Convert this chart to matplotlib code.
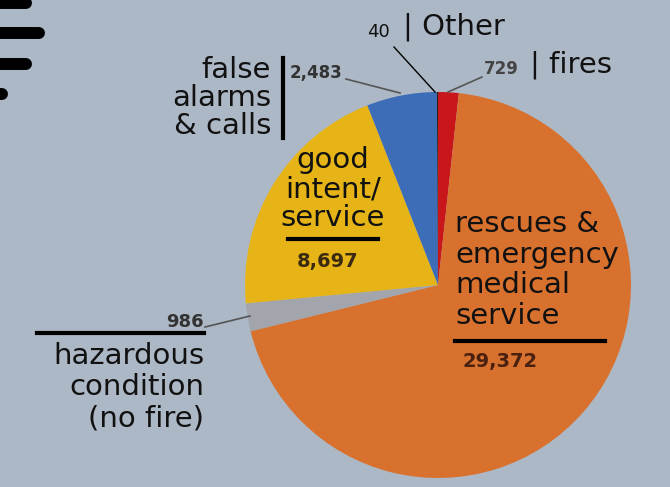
import matplotlib.pyplot as plt
from matplotlib.lines import Line2D

# Data
categories = ['fires', 'rescues & emergency medical service', 'hazardous condition (no fire)',
              'good intent/service', 'false alarms & calls', 'Other']
values = [729, 29372, 986, 8697, 2483, 40]
value_labels = ['729', '29,372', '986', '8,697', '2,483', '40']
colors = ['#c8161a', '#d8712e', '#a2a5ab', '#e6b416', '#3e6db8', '#222222']

W, H = 670, 487
fig = plt.figure(figsize=(W / 100, H / 100), dpi=100)
fig.patch.set_facecolor('#adb8c6')
ax = fig.add_axes([0, 0, 1, 1])
ax.set_facecolor('#adb8c6')

# pie: y axis inverted, so counterclock=True reads clockwise on screen
ax.pie(values, colors=colors, center=(438, 285), radius=193,
       startangle=-90, counterclock=True,
       wedgeprops=dict(linewidth=0))
ax.set_xlim(0, W)
ax.set_ylim(H, 0)
ax.set_aspect('equal')
ax.axis('off')

# decorative bars top-left
for y, x1 in [(3, 26), (33, 39), (64, 26), (94, 2)]:
    ax.add_line(Line2D([-20, x1], [y, y], color='black', lw=8.6,
                       solid_capstyle='round'))

big = dict(fontsize=21, color='#111111', family='DejaVu Sans')
num = dict(fontweight='bold', family='DejaVu Sans')

# fires / other
ax.text(367, 32, value_labels[5], fontsize=13, color='#111111', va='center')
ax.text(403, 27, '| Other', va='center', **big)
ax.text(484, 69, value_labels[0], fontsize=12, color='#444444', va='center', **num)
ax.text(530, 65, '| fires', va='center', **big)
ax.plot([394, 435], [47, 92], color='black', lw=1)
ax.plot([448, 482], [92, 77], color='#555555', lw=1.2)

# false alarms
ax.text(271, 98, 'false\nalarms\n& calls', ha='right', va='center',
        multialignment='right', linespacing=1.02, **big)
ax.plot([283, 283], [58, 138], color='black', lw=3)
ax.text(290, 73, value_labels[4], fontsize=12, color='#333333', va='center', **num)
ax.plot([346, 400], [79, 93], color='#555555', lw=1.2)

# good intent
ax.text(333, 189, 'good\nintent/\nservice', ha='center', va='center',
        multialignment='center', linespacing=1.03, **big)
ax.plot([288, 378], [239, 239], color='black', lw=3)
ax.text(297, 261, value_labels[3], fontsize=14, color='#3a2a10', va='center', **num)

# rescues
ax.text(455, 270, 'rescues &\nemergency\nmedical\nservice', ha='left', va='center',
        multialignment='left', linespacing=1.13, **big)
ax.plot([455, 605], [341, 341], color='black', lw=3)
ax.text(462, 361, value_labels[1], fontsize=14, color='#4a2010', va='center', **num)

# hazardous
ax.text(204, 322, value_labels[2], fontsize=13, color='#333333', ha='right', va='center', **num)
ax.plot([205, 250], [327, 316], color='#555555', lw=1.2)
ax.plot([37, 204], [333, 333], color='black', lw=3)
ax.text(204, 387, 'hazardous\ncondition\n(no fire)', ha='right', va='center',
        multialignment='right', linespacing=1.15, **big)

fig.savefig('out.png', dpi=100, facecolor=fig.get_facecolor())
